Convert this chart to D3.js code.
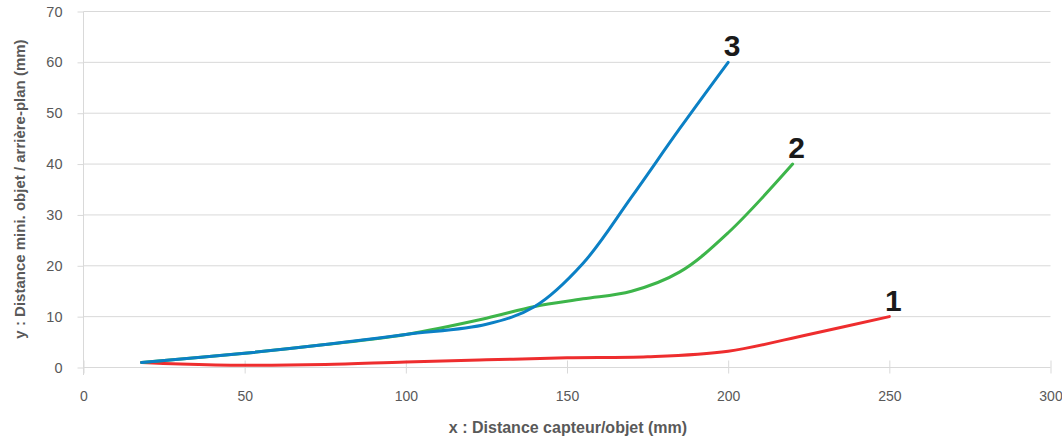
<!DOCTYPE html>
<html>
<head>
<meta charset="utf-8">
<script src="https://cdn.jsdelivr.net/npm/d3@7"></script>
<style>
  body { margin: 0; background: #fff; }
  svg { font-family: "Liberation Sans", Arial, sans-serif; }
</style>
</head>
<body>
<svg id="chart" width="1062" height="445"></svg>
<script>
// values
var xTicks = [0, 50, 100, 150, 200, 250, 300]
var yTicks = [0, 10, 20, 30, 40, 50, 60, 70]

var red1X = [18, 30, 50, 75, 100, 125, 150, 175, 200, 225, 250]
var red1Y = [1, 0.7, 0.45, 0.6, 1.1, 1.5, 1.9, 2.1, 3.2, 6.5, 10]

var green2X = [18, 50, 75, 100, 125, 140, 155, 170, 185, 200, 220]
var green2Y = [1, 2.8, 4.5, 6.5, 9.7, 12, 13.5, 15, 18.8, 26.5, 40]

var blue3X = [18, 50, 75, 100, 125, 140, 155, 170, 185, 200]
var blue3Y = [1, 2.8, 4.5, 6.5, 8.5, 12, 20.5, 33.5, 47, 60]

var series = [
  {name: '1', xs: red1X, ys: red1Y, color: '#ee2d2e'},
  {name: '2', xs: green2X, ys: green2Y, color: '#3db54a'},
  {name: '3', xs: blue3X, ys: blue3Y, color: '#0b80c5'}
]

var svg = d3.select('#chart')
var x = d3.scaleLinear().domain([0, 300]).range([83.5, 1050.5])
var y = d3.scaleLinear().domain([0, 70]).range([367.5, 11.5])

var grid = '#d9d9d9', textCol = '#595959'

// horizontal gridlines
svg.append('g').selectAll('line').data(yTicks.slice(1)).join('line')
  .attr('x1', x(0)).attr('x2', x(300))
  .attr('y1', d => y(d)).attr('y2', d => y(d))
  .attr('stroke', grid).attr('stroke-width', 1)

// y axis
var yAx = svg.append('g').attr('transform', 'translate(' + x(0) + ',0)')
  .call(d3.axisLeft(y).tickValues(yTicks).tickSize(6).tickPadding(15))
yAx.select('.domain').attr('stroke', grid).attr('d', 'M0,' + y(70) + 'V375')
yAx.selectAll('.tick line').attr('stroke', grid)
yAx.selectAll('.tick text').attr('fill', textCol).style('font-size', '14.5px')
  .style('font-family', '"Liberation Sans", Arial, sans-serif')

// x axis, ticks crossing the line
var xAx = svg.append('g').attr('transform', 'translate(0,' + y(0) + ')')
  .call(d3.axisBottom(x).tickValues(xTicks).tickSize(6).tickPadding(18))
xAx.select('.domain').attr('stroke', grid).attr('d', 'M' + x(0) + ',0H' + x(300))
xAx.selectAll('.tick line').attr('stroke', grid).attr('y1', -7).attr('y2', 6)
xAx.selectAll('.tick text').attr('fill', textCol).style('font-size', '14px')
  .style('font-family', '"Liberation Sans", Arial, sans-serif')

// axis titles
svg.append('text').attr('x', 568).attr('y', 433).attr('text-anchor', 'middle')
  .attr('fill', textCol).style('font-size', '16px').style('font-weight', 'bold')
  .text('x : Distance capteur/objet (mm)')
svg.append('text').attr('transform', 'translate(25,189) rotate(-90)').attr('text-anchor', 'middle')
  .attr('fill', textCol).style('font-size', '15px').style('font-weight', 'bold')
  .text('y : Distance mini. objet / arrière-plan (mm)')

var line = d3.line()
  .x(d => x(d[0])).y(d => y(d[1]))
  .curve(d3.curveCatmullRom.alpha(0.5))

series.forEach(function(s) {
  var pts = s.xs.map((v, i) => [v, s.ys[i]])
  svg.append('path').attr('d', line(pts))
    .attr('fill', 'none').attr('stroke', s.color).attr('stroke-width', 3)
    .attr('stroke-linecap', 'round')
  var last = pts[pts.length - 1]
  svg.append('text').attr('x', x(last[0]) + 4).attr('y', y(last[1]) - 6)
    .attr('text-anchor', 'middle').attr('fill', '#1a1a1a')
    .style('font-size', '30px').style('font-weight', 'bold')
    .text(s.name)
})
</script>
</body>
</html>
